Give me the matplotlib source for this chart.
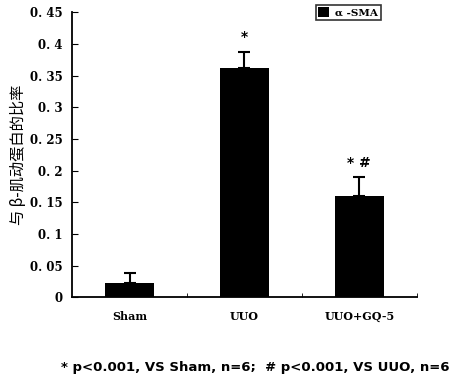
import numpy as np
import matplotlib.pyplot as plt

# data
groups = ["Sham", "UUO", "UUO+GQ-5"]
ratio = [0.022, 0.362, 0.160]
err_up = [0.016, 0.025, 0.029]
marks = ["", "*", "* #"]
ytick_vals = [0, 0.05, 0.1, 0.15, 0.2, 0.25, 0.3, 0.35, 0.4, 0.45]
ytick_text = ["0", "0. 05", "0. 1", "0. 15", "0. 2", "0. 25", "0. 3", "0. 35", "0. 4", "0. 45"]

plt.rcParams['font.family'] = ['DejaVu Serif', 'Noto Sans CJK SC']

fig = plt.figure(figsize=(4.56, 3.81), dpi=100)
ax = fig.add_axes([0.158, 0.22, 0.756, 0.748])

x = np.arange(len(groups))
bars = ax.bar(x, ratio, width=0.43, color='black', label='α -SMA')
ax.errorbar(x, ratio, yerr=[np.zeros(len(ratio)), err_up], fmt='none',
            ecolor='black', elinewidth=1.5, capsize=4, capthick=1.5)

for xi, v, e, m in zip(x, ratio, err_up, marks):
    if m:
        ax.text(xi, v + e + 0.012, m, ha='center', va='bottom', fontsize=10,
                fontweight='bold', family='DejaVu Sans')

ax.set_xlim(-0.5, 2.5)
ax.set_ylim(0, 0.45)
ax.set_xticks(x)
ax.set_xticklabels(groups, fontsize=8, fontweight='bold')
ax.tick_params(axis='x', length=0, pad=10)
ax.set_xticks([0.5, 1.5, 2.5], minor=True)
ax.tick_params(axis='x', which='minor', length=3, direction='in')

ax.set_yticks(ytick_vals)
ax.set_yticklabels(ytick_text, fontsize=8.5, fontweight='bold')
ax.tick_params(axis='y', direction='in', length=4, pad=7)

ax.spines['top'].set_visible(False)
ax.spines['right'].set_visible(False)
ax.spines['left'].set_linewidth(1.3)
ax.spines['bottom'].set_linewidth(1.3)

ax.set_ylabel("与 β-肌动蛋白的比率", family=['Noto Sans CJK SC', 'DejaVu Sans'],
              fontsize=11, labelpad=2)

leg = ax.legend(loc='upper right', bbox_to_anchor=(0.91, 1.045),
                frameon=True, fancybox=False, edgecolor='black',
                handlelength=1.0, handleheight=1.0, borderpad=0.25,
                handletextpad=0.6, prop={'weight': 'bold', 'size': 7.5})
leg.get_frame().set_linewidth(1.2)

fig.text(0.56, 0.035, "* p<0.001, VS Sham, n=6;  # p<0.001, VS UUO, n=6",
         ha='center', va='center', fontsize=9.5, fontweight='bold',
         family='DejaVu Sans')

plt.savefig("out.png", dpi=100)
